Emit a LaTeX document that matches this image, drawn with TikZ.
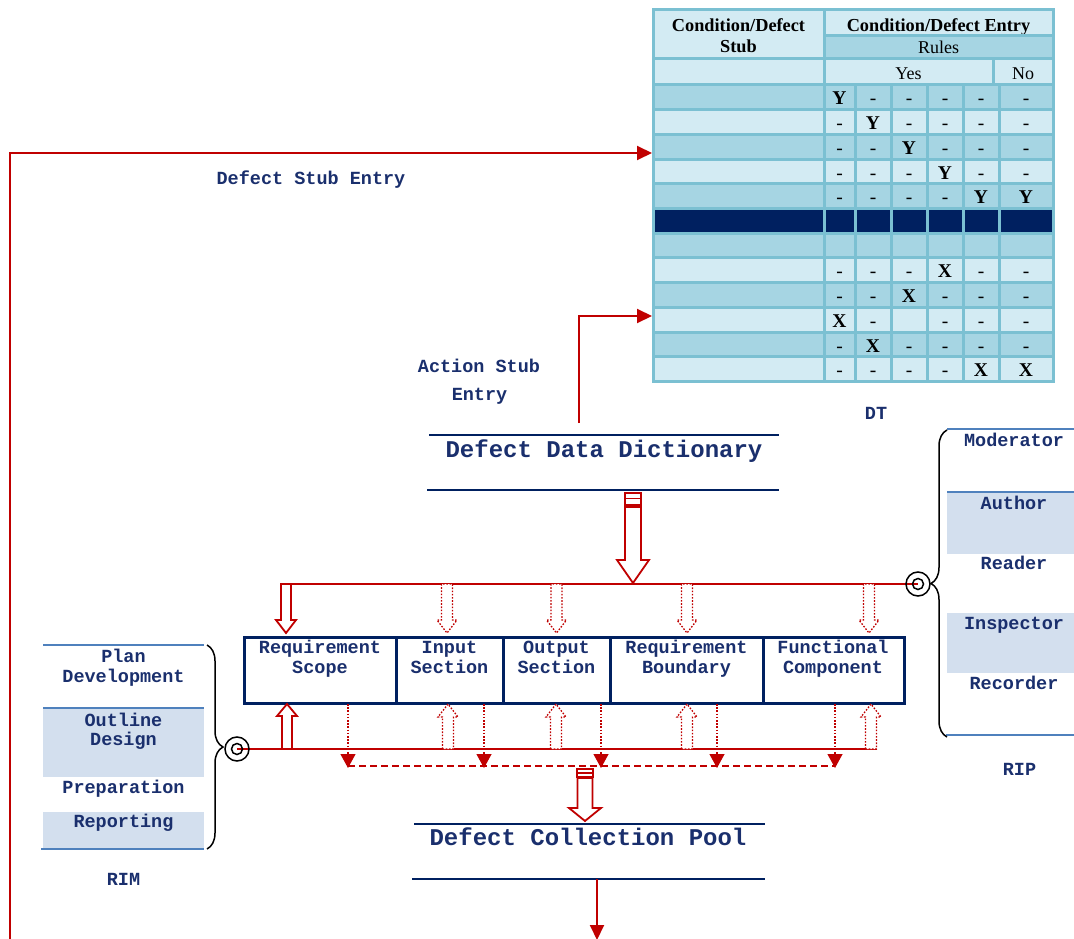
\documentclass[tikz,border=0pt]{standalone}
\usepackage{fontspec}
\setmainfont{Liberation Serif}
\newfontfamily\cour{Liberation Mono}
\usetikzlibrary{arrows.meta,decorations.pathreplacing}
\definecolor{navy}{HTML}{002060}
\definecolor{txtblue}{HTML}{1A2F6D}
\definecolor{dred}{HTML}{C00000}
\definecolor{tline}{HTML}{7BC0D2}
\definecolor{lite}{HTML}{D3EBF3}
\definecolor{med}{HTML}{A6D5E3}
\definecolor{dark}{HTML}{002060}
\definecolor{bline}{HTML}{4F81BD}
\definecolor{bfill}{HTML}{D3DFEE}
\newcommand\bY{\textbf{Y}}
\newcommand\bX{\textbf{X}}
% hollow arrows: [style]{x}{y start}{y tip}{shaft half}{head half}{head length}
\newcommand\hdown[7][]{\draw[#1] (#2-#5,#3) -- (#2-#5,#4-#7) -- (#2-#6,#4-#7) -- (#2,#4) -- (#2+#6,#4-#7) -- (#2+#5,#4-#7) -- (#2+#5,#3) -- cycle;}
\newcommand\hup[7][]{\draw[#1] (#2-#5,#3) -- (#2-#5,#4+#7) -- (#2-#6,#4+#7) -- (#2,#4) -- (#2+#6,#4+#7) -- (#2+#5,#4+#7) -- (#2+#5,#3) -- cycle;}
\newcommand\tabrow[8]{%
  \pgfmathsetmacro\ya{85+24.7*#1}%
  \pgfmathsetmacro\yb{\ya+24.7}%
  \path[cellst,fill=#2] (653,\ya) rectangle (824,\yb);
  \path[cellst,fill=#2] (824,\ya) rectangle (855,\yb);
  \path[cellst,fill=#2] (855,\ya) rectangle (891,\yb);
  \path[cellst,fill=#2] (891,\ya) rectangle (927,\yb);
  \path[cellst,fill=#2] (927,\ya) rectangle (963,\yb);
  \path[cellst,fill=#2] (963,\ya) rectangle (999,\yb);
  \path[cellst,fill=#2] (999,\ya) rectangle (1053,\yb);
  \node[mk] (r#1c1) at (839.5,\ya+20) {#3};
  \node[mk] (r#1c2) at (873,\ya+20) {#4};
  \node[mk] (r#1c3) at (909,\ya+20) {#5};
  \node[mk] (r#1c4) at (945,\ya+20) {#6};
  \node[mk] (r#1c5) at (981,\ya+20) {#7};
  \node[mk] (r#1c6) at (1026,\ya+20) {#8};
}
\begin{document}
\begin{tikzpicture}[x=1pt,y=-1pt,
  lbl/.style={font=\fontsize{18.5}{21}\selectfont\cour\bfseries, text=txtblue, inner sep=0pt, anchor=base},
  biglbl/.style={lbl, font=\fontsize{24}{28}\selectfont\cour\bfseries},
  cellst/.style={draw=tline, line width=3pt},
  tt/.style={font=\fontsize{18}{21}\selectfont, inner sep=0pt, anchor=base},
  ttb/.style={font=\fontsize{18.3}{21}\selectfont\bfseries, inner sep=0pt, anchor=base},
  mk/.style={font=\fontsize{19.5}{21}\selectfont, inner sep=0pt, anchor=base},
  redl/.style={draw=dred, line width=2pt},
  hollow/.style={draw=dred, line width=1.8pt, fill=white},
  hdot/.style={draw=dred, line width=1.3pt, dash pattern=on 1.6pt off 1.6pt, fill=white},
  rtip/.style={-{Triangle[length=15pt,width=14pt]}},
  dtip/.style={-{Triangle[length=14pt,width=15pt]}},
  boxl/.style={draw=navy, line width=3pt},
  rulel/.style={draw=navy, line width=2.5pt},
  bluebar/.style={draw=bline, line width=2.5pt},
  bracest/.style={decorate, decoration={brace, amplitude=16pt}, line width=1.5pt, draw=black},
  ring/.style={draw=black, line width=1.5pt}
]
\useasboundingbox (0,0) rectangle (1074,939);
\fill[white] (0,0) rectangle (1074,939);

% ---------------- decision table ----------------
\path[cellst,fill=lite] (653,10) rectangle (824,59);
\node[ttb] (stub1) at (738.5,31.5) {Condition/Defect};
\node[ttb] (stub2) at (738.5,52.5) {Stub};
\path[cellst,fill=lite] (824,10) rectangle (1053,36);
\node[ttb] (entry) at (938.5,31.5) {Condition/Defect Entry};
\path[cellst,fill=med] (824,36) rectangle (1053,59);
\node[tt] (rules) at (938.5,54) {Rules};
\path[cellst,fill=lite] (653,59) rectangle (824,85);
\path[cellst,fill=lite] (824,59) rectangle (993,85);
\node[tt] (yes) at (908.5,80) {Yes};
\path[cellst,fill=lite] (993,59) rectangle (1053,85);
\node[tt] (no) at (1023,80) {No};
\tabrow{0}{med}{\bY}{-}{-}{-}{-}{-}
\tabrow{1}{lite}{-}{\bY}{-}{-}{-}{-}
\tabrow{2}{med}{-}{-}{\bY}{-}{-}{-}
\tabrow{3}{lite}{-}{-}{-}{\bY}{-}{-}
\tabrow{4}{med}{-}{-}{-}{-}{\bY}{\bY}
\tabrow{5}{dark}{}{}{}{}{}{}
\tabrow{6}{med}{}{}{}{}{}{}
\tabrow{7}{lite}{-}{-}{-}{\bX}{-}{-}
\tabrow{8}{med}{-}{-}{\bX}{-}{-}{-}
\tabrow{9}{lite}{\bX}{-}{}{-}{-}{-}
\tabrow{10}{med}{-}{\bX}{-}{-}{-}{-}
\tabrow{11}{lite}{-}{-}{-}{-}{\bX}{\bX}
\node[lbl] (dt) at (876,419) {DT};

% ---------------- stub entry arrows ----------------
\coordinate (dseA) at (10,945);
\coordinate (dseB) at (10,153);
\coordinate (dseC) at (652,153);
\draw[redl,rtip] (dseA) -- (dseB) -- (dseC);
\node[lbl] (dse) at (311,185) {Defect Stub Entry};
\coordinate (aseA) at (579,423);
\coordinate (aseB) at (579,316);
\coordinate (aseC) at (652,316);
\draw[redl,rtip] (aseA) -- (aseB) -- (aseC);
\node[lbl] (ase1) at (479,372) {Action Stub};
\node[lbl] (ase2) at (479.5,400.5) {Entry};

% ---------------- defect data dictionary ----------------
\coordinate (ddTL) at (429,435); \coordinate (ddTR) at (779,435);
\coordinate (ddBL) at (427,490); \coordinate (ddBR) at (779,490);
\draw[rulel] (ddTL) -- (ddTR);
\draw[rulel] (ddBL) -- (ddBR);
\node[biglbl] (ddd) at (604,457) {Defect Data Dictionary};
\draw[hollow] (625,493) rectangle (641,505);
\draw[dred, line width=1.8pt] (625,498.5) -- (641,498.5);
\hdown[hollow]{633}{507}{583}{8}{16}{23}

% ---------------- distribution line (top) ----------------
\coordinate (topL) at (280,584);
\coordinate (ripC) at (918,584);
\draw[redl] (topL) -- (ripC);
\hdown[hollow]{286}{584}{633}{5}{10}{13}
\foreach \x in {447,556.5,687,869} {\hdown[hdot]{\x}{584}{633}{5.5}{10}{13}}

% ---------------- section boxes ----------------
\draw[boxl] (244,637) rectangle (904,703);
\foreach \x in {396,503,610,763} {\draw[boxl] (\x,637) -- (\x,703);}
\node[lbl] (rs1) at (320,653) {Requirement};
\node[lbl] (rs2) at (320,673) {Scope};
\node[lbl] (is1) at (449.5,653) {Input};
\node[lbl] (is2) at (449.5,673) {Section};
\node[lbl] (os1) at (556.5,653) {Output};
\node[lbl] (os2) at (556.5,673) {Section};
\node[lbl] (rb1) at (686.5,653) {Requirement};
\node[lbl] (rb2) at (686.5,673) {Boundary};
\node[lbl] (fc1) at (833,653) {Functional};
\node[lbl] (fc2) at (833,673) {Component};

% ---------------- collection line (bottom) ----------------
\coordinate (rimC) at (237,749);
\coordinate (botR) at (877,749);
\draw[redl] (rimC) -- (botR);
\hup[hollow]{287}{749}{704}{5}{10}{12}
\foreach \x in {448,556,687,871} {\hup[hdot]{\x}{749}{704}{5.5}{10}{13}}
\foreach \x in {348,484,601,717,835} {
  \draw[dred, line width=1.2pt, dash pattern=on 1.6pt off 1.6pt, dtip] (\x,704) -- (\x,768);
}
\coordinate (dashL) at (348,766);
\coordinate (dashR) at (835,766);
\draw[dred, line width=1.6pt, dash pattern=on 7pt off 4pt] (dashL) -- (dashR);

% ---------------- defect collection pool ----------------
\draw[hollow] (577,769) rectangle (593,777);
\draw[dred, line width=1.8pt] (577,773) -- (593,773);
\hdown[hollow]{585}{778}{821}{7.5}{16}{13}
\coordinate (dcTL) at (414,824); \coordinate (dcTR) at (765,824);
\coordinate (dcBL) at (412,879); \coordinate (dcBR) at (765,879);
\draw[rulel] (dcTL) -- (dcTR);
\draw[rulel] (dcBL) -- (dcBR);
\node[biglbl] (dcp) at (588,845) {Defect Collection Pool};
\coordinate (outA) at (597,879);
\coordinate (outB) at (597,940);
\draw[redl,rtip] (outA) -- (outB);

% ---------------- RIM ----------------
\fill[bfill] (43,708) rectangle (204,777);
\fill[bfill] (43,812) rectangle (204,848);
\draw[bluebar] (43,645) -- (204,645);
\draw[bluebar] (43,708) -- (204,708);
\draw[bluebar] (41,849) -- (204,849);
\node[lbl] (plan) at (123.5,662) {Plan};
\node[lbl] (devl) at (123.5,682) {Development};
\node[lbl] (outl) at (123.5,726) {Outline};
\node[lbl] (desg) at (123.5,745) {Design};
\node[lbl] (prep) at (123.5,793) {Preparation};
\node[lbl] (repo) at (123.5,827) {Reporting};
\node[lbl] (rim) at (123.5,885) {RIM};
\draw[bracest] (207,645) -- (207,849);
\draw[ring] (rimC) circle (12pt);
\draw[ring] (rimC) circle (5.5pt);

% ---------------- RIP ----------------
\fill[bfill] (947,492) rectangle (1074,554);
\fill[bfill] (947,613) rectangle (1074,673);
\draw[bluebar] (947,429) -- (1074,429);
\draw[bluebar] (947,492) -- (1074,492);
\draw[bluebar] (946,735) -- (1074,735);
\node[lbl] (mod) at (1014,446) {Moderator};
\node[lbl] (auth) at (1014,509) {Author};
\node[lbl] (read) at (1014,569) {Reader};
\node[lbl] (insp) at (1014,629) {Inspector};
\node[lbl] (reco) at (1014,689) {Recorder};
\node[lbl] (rip) at (1019.5,775) {RIP};
\draw[bracest] (947,737) -- (947,430);
\draw[ring] (ripC) circle (12pt);
\draw[ring] (ripC) circle (5.5pt);
\end{tikzpicture}
\end{document}
